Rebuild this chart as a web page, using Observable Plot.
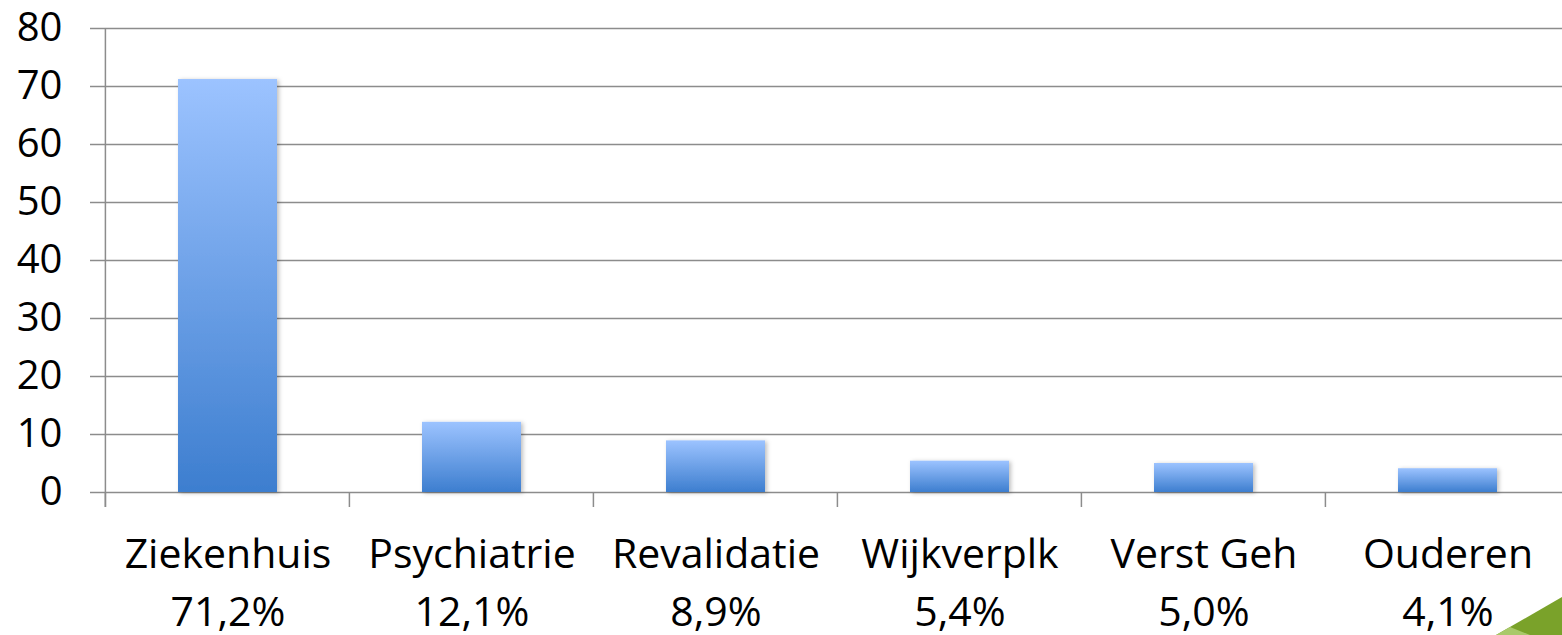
<!DOCTYPE html>
<html><head><meta charset="utf-8">
<script src="https://cdn.jsdelivr.net/npm/d3@7"></script>
<script src="https://cdn.jsdelivr.net/npm/@observablehq/plot@0.6"></script>
<style>
body{margin:0;background:#fff;}
#wrap{position:relative;width:1562px;height:635px;overflow:hidden;background:#fff}
#corner{position:absolute;left:0;top:0;pointer-events:none}
</style>
</head><body><div id="wrap"></div>
<script>
const categories = ["Ziekenhuis","Psychiatrie","Revalidatie","Wijkverplk","Verst Geh","Ouderen"];
const percentLabels = ["71,2%","12,1%","8,9%","5,4%","5,0%","4,1%"];
const values = [71.2, 12.1, 8.9, 5.4, 5.0, 4.1];
const yTicks = [0,10,20,30,40,50,60,70,80];

const data = categories.map((c, i) => ({category: c, value: values[i]}));
const pad = 0.595;
const gridColor = "#8c8c8c";

function defs() {
  const svg = d3.create("svg:defs");
  const g = svg.append("linearGradient").attr("id","barGrad")
    .attr("x1",0).attr("y1",0).attr("x2",0).attr("y2",1);
  g.append("stop").attr("offset","0%").attr("stop-color","#9cc3ff");
  g.append("stop").attr("offset","100%").attr("stop-color","#3d7ecf");
  const f = svg.append("filter").attr("id","barShadow")
    .attr("x","-10%").attr("y","-10%").attr("width","125%").attr("height","125%");
  f.append("feDropShadow").attr("dx",2).attr("dy",1).attr("stdDeviation",2)
    .attr("flood-color","#000").attr("flood-opacity",0.25);
  return svg.node();
}

function axisDecor(index, scales) {
  const x = scales.x, y = scales.y;
  const step = x(categories[1]) - x(categories[0]);
  const off = step * pad / 2;
  const xs = categories.map(c => x(c) - off);
  xs.push(x(categories[categories.length - 1]) + step - off);
  const g = d3.create("svg:g").attr("stroke", gridColor).attr("stroke-width", 1.5);
  const y0 = y(0);
  g.append("line").attr("x1", xs[0]).attr("x2", xs[0]).attr("y1", y(80)).attr("y2", y0 + 15);
  for (const xv of xs) {
    g.append("line").attr("x1", xv).attr("x2", xv).attr("y1", y0).attr("y2", y0 + 15);
  }
  return g.node();
}

const chart = Plot.plot({
  width: 1562, height: 635,
  marginLeft: 105, marginTop: 28, marginBottom: 143, marginRight: 0,
  style: {fontFamily: "'Open Sans', sans-serif", fontSize: "40px", color: "#000", background: "#fff", overflow: "visible"},
  x: {domain: categories, range: [105, 105 + 6 * 244], paddingInner: pad, paddingOuter: pad / 2, label: null},
  y: {domain: [0, 80], label: null},
  marks: [
    defs,
    Plot.ruleY(yTicks, {stroke: gridColor, strokeWidth: 1.5}),
    Plot.axisY({ticks: yTicks, tickSize: 15, tickPadding: 28, stroke: gridColor, strokeWidth: 1.5, strokeOpacity: 1, label: null, fontSize: 40, fill: "#000"}),
    Plot.axisX({tickSize: 0, tickPadding: 34, lineHeight: 1.42, fontSize: 41, fill: "#000", label: null,
      tickFormat: d => d + "\n" + percentLabels[categories.indexOf(d)]}),
    axisDecor,
    Plot.barY(data, {x: "category", y: "value", fill: "url(#barGrad)"}),
  ]
});
const wrap = document.getElementById("wrap");
wrap.appendChild(chart);
chart.querySelectorAll("rect").forEach(r => { if (r.getAttribute("fill") === "url(#barGrad)" || r.parentNode.getAttribute("fill") === "url(#barGrad)") r.setAttribute("filter","url(#barShadow)"); });

const corner = d3.select(wrap).append("svg").attr("id","corner").attr("width",1562).attr("height",635);
corner.append("polygon").attr("points","1496,635 1562,597 1562,635").attr("fill","#7aa22a");
corner.append("polygon").attr("points","1496,635 1510,627 1530,635").attr("fill","#a9c96a");
</script>
</body></html>
